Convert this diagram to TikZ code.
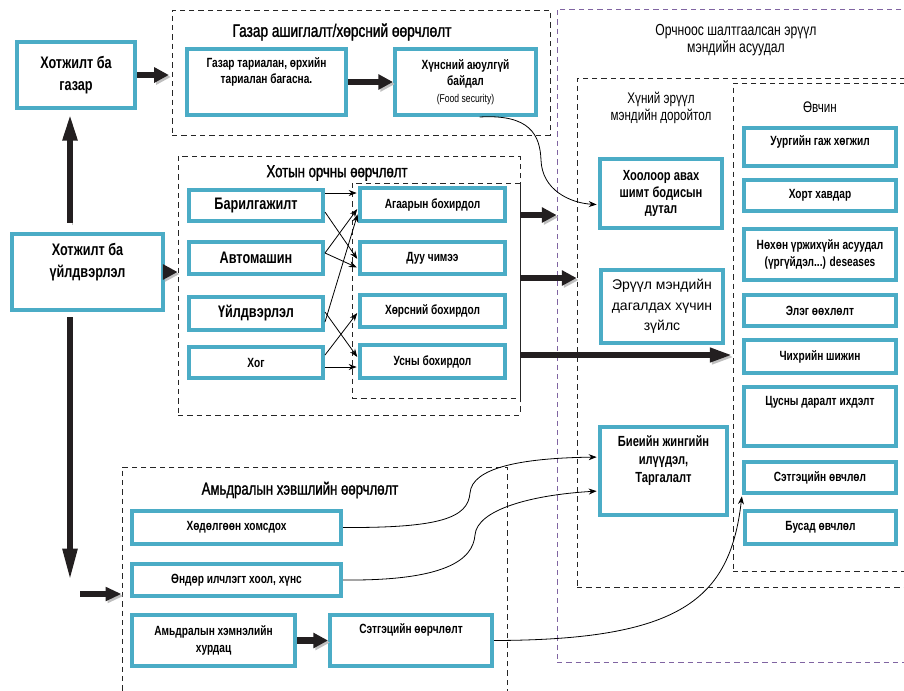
\documentclass[tikz,border=0pt]{standalone}
\usepackage{fontspec}
\setmainfont{Liberation Sans}[FakeStretch=0.76]
\newfontfamily\widefont{Liberation Sans}
\newfontfamily\medfont{Liberation Sans}[FakeStretch=0.76, FakeBold=1.4]
\usetikzlibrary{arrows.meta,fit}
\definecolor{boxblue}{RGB}{75,172,198}
\definecolor{grpviolet}{RGB}{128,100,162}
\definecolor{arrblack}{RGB}{35,31,32}
\tikzset{
  box/.style={draw=boxblue, line width=3pt, fill=white, inner sep=0pt},
  boxlbl/.style={align=center, inner sep=0pt, font=\fontsize{10}{12.5}\selectfont\bfseries},
  biglbl/.style={boxlbl, font=\fontsize{12.5}{17}\selectfont\bfseries},
  grp/.style={draw=black!85, line width=0.7pt, dash pattern=on 4pt off 3pt, inner sep=0pt},
  vgrp/.style={grp, draw=grpviolet},
  ttl/.style={align=center, inner sep=0pt, font=\medfont\fontsize{13.5}{15}\selectfont},
  subttl/.style={align=center, inner sep=0pt, font=\fontsize{11.5}{12.75}\selectfont},
  blk/.style={line width=5pt, draw=arrblack, -{Triangle[length=11pt,width=11pt]},
    preaction={draw=black!25, transform canvas={shift={(1.5pt,-1.5pt)}}}},
  link/.style={line width=0.6pt, -{Stealth[length=6pt,width=4.5pt]}, shorten >=1pt},
}

\begin{document}
\begin{tikzpicture}[x=0.75pt,y=-0.75pt]
  %%%%% START %%%%%
  \path[use as bounding box] (0,0) rectangle (904,690);
  \clip (0,0) rectangle (904,690);

  % dashed groups
  \node[vgrp, fit={(557,9) (930,662)}] (org) {};
  \node[grp, fit={(577,78) (930,587)}] (hun) {};
  \node[grp, fit={(733,83) (930,571)}] (ovc) {};
  \node[grp, fit={(172,10) (550,135)}] (gzg) {};
  \node[grp, fit={(178,156) (520,415)}] (htg) {};
  \node[grp, fit={(352,183) (520,398)}] (htin) {};
  \node[grp, fit={(122,467) (507,720)}] (ami) {};

  \node[ttl] (gzg-t) at (342,32) {Газар ашиглалт/хөрсний өөрчлөлт};
  \node[ttl, font=\medfont\fontsize{13}{15}\selectfont] (htg-t) at (337,173) {Хотын орчны өөрчлөлт};
  \node[ttl, font=\medfont\fontsize{13}{15}\selectfont] (ami-t) at (300,490) {Амьдралын хэвшлийн өөрчлөлт};
  \node[subttl, font=\fontsize{12}{12.75}\selectfont] (org-t) at (736,40) {Орчноос шалтгаалсан эрүүл\\мэндийн асуудал};
  \node[subttl] (hun-t) at (661,108) {Хүний эрүүл\\мэндийн доройтол};
  \node[subttl] (ovc-t) at (820,107) {Өвчин};

  % left column
  \node[box, fit={(17,42) (135,108)}, label={[biglbl]center:Хотжилт ба\\газар}] (hg) {};
  \node[box, fit={(12,234) (163,310)},
    label={[biglbl, yshift=7.5pt]center:Хотжилт ба\\үйлдвэрлэл}] (hu) {};

  % land use
  \node[box, fit={(187,49) (346,115)},
    label={[boxlbl, yshift=7.5pt]center:Газар тариалан, өрхийн\\тариалан багасна.}] (gt) {};
  \node[box, fit={(395,49) (536,115)},
    label={[boxlbl]center:Хүнсний аюулгүй\\байдал\\{\fontsize{8.5}{11}\selectfont\mdseries (Food security)}}] (hs) {};

  % urban environment
  \node[box, fit={(189,190) (323,221)}, label={[biglbl]center:Барилгажилт}] (bar) {};
  \node[box, fit={(189,242) (323,274)}, label={[biglbl]center:Автомашин}] (avt) {};
  \node[box, fit={(189,297) (323,330)}, label={[biglbl]center:Үйлдвэрлэл}] (uil) {};
  \node[box, fit={(189,347) (323,378)}, label={[boxlbl]center:Хог}] (hog) {};
  \node[box, fit={(360,188) (505,221)}, label={[boxlbl]center:Агаарын бохирдол}] (aga) {};
  \node[box, fit={(360,242) (505,274)}, label={[boxlbl]center:Дуу чимээ}] (duu) {};
  \node[box, fit={(360,295) (505,327)}, label={[boxlbl]center:Хөрсний бохирдол}] (hor) {};
  \node[box, fit={(360,345) (505,378)}, label={[boxlbl]center:Усны бохирдол}] (usn) {};

  % health decline
  \node[box, fit={(600,159) (722,228)},
    label={[boxlbl, font=\fontsize{11}{12.5}\selectfont\bfseries]center:Хоолоор авах\\шимт бодисын\\дутал}] (hool) {};
  \node[box, fit={(601,270) (723,343)},
    label={[boxlbl, font=\widefont\fontsize{10.5}{15.4}\selectfont]center:Эрүүл мэндийн\\дагалдах хүчин\\зүйлс}] (eruul) {};
  \node[box, fit={(600,427) (727,515)},
    label={[boxlbl, font=\fontsize{11}{13.5}\selectfont\bfseries, yshift=8pt]center:Биеийн жингийн\\илүүдэл,\\Таргалалт}] (biye) {};

  % diseases
  \node[box, fit={(744,128) (896,166)}, label={[boxlbl, yshift=4pt]center:Уургийн гаж хөгжил}] (uur) {};
  \node[box, fit={(744,180) (896,211)}, label={[boxlbl]center:Хорт хавдар}] (hort) {};
  \node[box, fit={(744,229) (896,280)}, label={[boxlbl]center:Нөхөн үржихүйн асуудал\\(үргүйдэл...) deseases}] (nohon) {};
  \node[box, fit={(744,295) (896,326)}, label={[boxlbl]center:Элэг өөхлөлт}] (eleg) {};
  \node[box, fit={(744,340) (896,373)}, label={[boxlbl]center:Чихрийн шижин}] (chih) {};
  \node[box, fit={(744,387) (896,446)}, label={[boxlbl, yshift=11pt]center:Цусны даралт ихдэлт}] (cus) {};
  \node[box, fit={(744,462) (896,493)}, label={[boxlbl]center:Сэтгэцийн өвчлөл}] (setov) {};
  \node[box, fit={(745,511) (896,544)}, label={[boxlbl]center:Бусад өвчлөл}] (busad) {};

  % lifestyle
  \node[box, fit={(132,511) (341,544)}, label={[boxlbl]center:Хөдөлгөөн хомсдох}] (hodol) {};
  \node[box, fit={(132,564) (341,596)}, label={[boxlbl]center:Өндөр илчлэгт хоол, хүнс}] (ondor) {};
  \node[box, fit={(132,615) (295,666)}, label={[boxlbl]center:Амьдралын хэмнэлийн\\хурдац}] (amhem) {};
  \node[box, fit={(330,615) (492,666)}, label={[boxlbl, yshift=8pt]center:Сэтгэцийн өөрчлөлт}] (setoor) {};

  % thick arrows
  \coordinate (vx) at (70,0);
  \coordinate (dn) at (70,582);
  \coordinate (lf) at (80,594);
  \draw[blk, -{Triangle[length=21pt,width=10pt]}, shorten <=7pt, shorten >=2pt] (vx |- hu.north) -- (vx |- hg.south);
  \draw[blk, -{Triangle[length=25pt,width=10pt]}, shorten <=4pt] (vx |- hu.south) -- (dn);
  \draw[blk, -{Triangle[length=12pt,width=10pt]}] (lf) -- (lf -| ami.west);
  \draw[blk, shorten >=2pt] (hg.east) -- (hg.east -| gzg.west);
  \draw[blk] (hu.east) -- (hu.east -| htg.west);
  \draw[blk] (gt.east) -- (hs.west);
  \draw[blk] (amhem.east) -- (setoor.west);
  \draw[blk] (htg.east |- 0,215) -- (org.west |- 0,215);
  \draw[blk] (htg.east |- 0,278) -- (hun.west |- 0,278);
  \draw[blk, line width=4.5pt, -{Triangle[length=17pt,width=10pt]}] (htg.east |- 0,355) -- (ovc.west |- 0,355);

  % sources to pollution
  \draw[link] (bar.east |- 0,193) -- (aga.west |- 0,193);
  \draw[link] (bar.east |- 0,212) -- (duu.west |- 0,260);
  \draw[link] (avt.east |- 0,253) -- (aga.west |- 0,208);
  \draw[link] (avt.east |- 0,253) -- (duu.west |- 0,268);
  \draw[link] (uil.east |- 0,322) -- (aga.west |- 0,213);
  \draw[link] (uil.east |- 0,312) -- (usn.west |- 0,358);
  \draw[link] (hog.east |- 0,355) -- (hor.west |- 0,312);
  \draw[link] (hog.east |- 0,367) -- (usn.west |- 0,367);

  % curved links
  \draw[link] (hs.-68) .. controls (530,114) and (540,135) .. (541,160)
    .. controls (542,190) and (570,203) .. (hool.190);
  \draw[link] (hodol.east) .. controls (440,528) and (468,518) .. (470,493)
    .. controls (472,468) and (520,458) .. (biye.168);
  \draw[link] (ondor.east) .. controls (445,581) and (473,560) .. (475,535)
    .. controls (477,510) and (530,495) .. (biye.197);
  \draw[link] (setoor.east) .. controls (680,640) and (730,600) .. (setov.south west);

  %%%%% END %%%%%
\end{tikzpicture}
\end{document}
